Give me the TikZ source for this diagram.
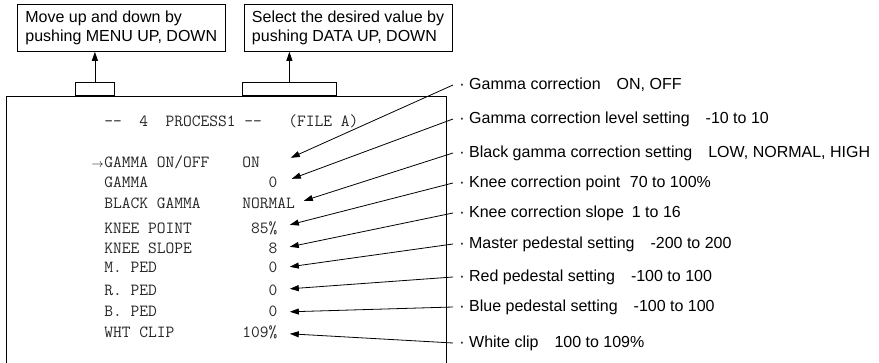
\documentclass[tikz,border=0pt]{standalone}
\usepackage{fontspec}
\setmainfont{Liberation Sans}
\usetikzlibrary{arrows.meta,positioning}

\tikzset{
  note/.style={draw, anchor=north west, align=left, inner xsep=8pt, inner ysep=4pt,
    minimum height=47pt, font=\fontsize{16}{19}\selectfont},
  tab/.style={draw, anchor=south west, minimum height=13pt, inner sep=0pt},
  osd/.style={font=\fontsize{17}{17}\selectfont\ttfamily, text=black!85, inner sep=0pt, anchor=base west},
  val/.style={osd, text width=35pt, align=right, text height=10.4pt, text depth=0pt},
  item/.style={anchor=west, inner xsep=6pt, inner ysep=0pt, font=\fontsize{16}{18}\selectfont},
}

\begin{document}
\begin{tikzpicture}[x=1pt, y=-1pt, line width=0.8pt, >={Triangle[length=9pt,width=6pt]}]
  \useasboundingbox (0,0) rectangle (879,363);

  % the screen, open at the foot
  \draw (6,363) |- (446,96) -- (446,363);
  \node[tab, minimum width=39pt] (t1) at (75,96) {};
  \node[tab, minimum width=94pt] (t2) at (242,96) {};

  \node[note] (menu) at (17,4) {Move up and down by\\pushing MENU UP, DOWN};
  \node[note, right=18pt of menu] (data) {Select the desired value by\\pushing DATA UP, DOWN};
  \draw[->] (t1.north) -- (t1.north |- menu.south);
  \draw[->] (t2.north) -- (t2.north |- data.south);

  % menu page
  \node[osd] (title) at (104,127) {{-}{-}~~4~~PROCESS1~{-}{-}~~~(FILE~A)};
  \node[osd] (rOnOff) at (104,168) {GAMMA~ON/OFF};
  \node[inner sep=0pt, anchor=base east, font=\fontsize{13}{13}\selectfont] (cursor) at (rOnOff.base west) {$\rightarrow$};
  \node[osd] (rGamma) at (104,188) {GAMMA};
  \node[osd] (rBlack) at (104,209) {BLACK~GAMMA};
  \node[osd] (rPoint) at (104,234) {KNEE~POINT};
  \node[osd] (rSlope) at (104,254) {KNEE~SLOPE};
  \node[osd] (rMped) at (104,273) {M.~PED};
  \node[osd] (rRped) at (104,296) {R.~PED};
  \node[osd] (rBped) at (104,317) {B.~PED};
  \node[osd] (rClip) at (104,338) {WHT~CLIP};

  \node[val, align=left] (vOnOff) at (242,168) {ON};
  \node[val] (vGamma) at (242,188) {0};
  \node[val, text width=52pt, align=left] (vBlack) at (242,209) {NORMAL};
  \node[val] (vPoint) at (242,234) {85\%};
  \node[val] (vSlope) at (242,254) {8};
  \node[val] (vMped) at (242,273) {0};
  \node[val] (vRped) at (242,296) {0};
  \node[val] (vBped) at (242,317) {0};
  \node[val] (vClip) at (242,338) {109\%};

  % settings on the right
  \node[item] (iOnOff) at (453,85) {·\ Gamma correction\hspace{1em}ON, OFF};
  \node[item] (iGamma) at (453,119) {·\ Gamma correction level setting\hspace{1em}-10 to 10};
  \node[item] (iBlack) at (453,153) {·\ Black gamma correction setting\hspace{1em}LOW, NORMAL, HIGH};
  \node[item] (iPoint) at (453,183) {·\ Knee correction point\hspace{0.6em}70 to 100\%};
  \node[item] (iSlope) at (453,213) {·\ Knee correction slope\hspace{0.5em}1 to 16};
  \node[item] (iMped) at (453,244) {·\ Master pedestal setting\hspace{1em}-200 to 200};
  \node[item] (iRped) at (453,277) {·\ Red pedestal setting\hspace{1em}-100 to 100};
  \node[item] (iBped) at (453,307) {·\ Blue pedestal setting\hspace{1em}-100 to 100};
  \node[item] (iClip) at (453,343) {·\ White clip\hspace{1em}100 to 109\%};

  \path
    (iOnOff.west) edge[->] ([xshift=13pt,yshift=5pt]vOnOff.east)
    (iGamma.west) edge[->] ([xshift=14pt,yshift=4pt]vGamma.east)
    (iBlack.west) edge[->] ([xshift=9pt,yshift=3pt]vBlack.east)
    (iPoint.west) edge[->] ([xshift=12pt,yshift=4pt]vPoint.east)
    (iSlope.west) edge[->] ([xshift=12pt,yshift=2pt]vSlope.east)
    (iMped.west) edge[->] ([xshift=12pt,yshift=1pt]vMped.east)
    (iRped.west) edge[->] ([xshift=12pt,yshift=2pt]vRped.east)
    (iBped.west) edge[->] ([xshift=12pt]vBped.east)
    (iClip.west) edge[->] ([xshift=12pt,yshift=-1pt]vClip.east);
\end{tikzpicture}
\end{document}
